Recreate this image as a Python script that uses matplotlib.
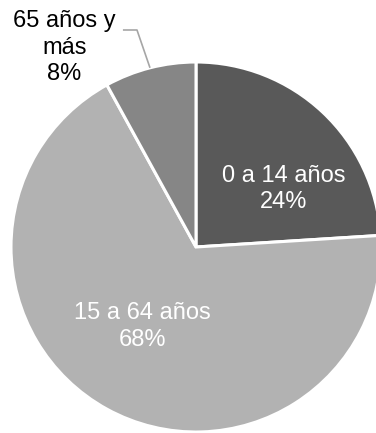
import numpy as np
import matplotlib
matplotlib.use("Agg")
import matplotlib.pyplot as plt

plt.rcParams['font.family'] = ['Liberation Sans', 'DejaVu Sans']

labels = ['0 a 14 años', '15 a 64 años', '65 años y\nmás']
shares = [24, 68, 8]
colors = ['#595959', '#b2b2b2', '#868686']

fig = plt.figure(figsize=(3.76, 4.33), dpi=100)
ax = fig.add_axes([0, 0, 1, 1])
r_px = 185.
cx, cy = 196., 247.

wedges, _ = ax.pie(shares, colors=colors, startangle=90, counterclock=False,
                   radius=1, wedgeprops=dict(edgecolor='white', linewidth=2.2))
ax.set_xlim(-cx / r_px, (376 - cx) / r_px)
ax.set_ylim(-(433 - cy) / r_px, cy / r_px)
ax.axis('off')

fs = 17
ls = 1.27
# inside labels
ax.text(0.473, 0.313, '%s\n%d%%' % (labels[0], shares[0]), color='white',
        ha='center', va='center', size=fs, linespacing=ls)
ax.text(-0.29, -0.43, '%s\n%d%%' % (labels[1], shares[1]), color='white',
        ha='center', va='center', size=fs, linespacing=ls)

# outside label with leader line
w = wedges[2]
ang = np.deg2rad((w.theta1 + w.theta2) / 2)
x0, y0 = np.cos(ang), np.sin(ang)
ax.plot([x0, -0.319, -0.395], [y0, 1.173, 1.173], color='#a6a6a6', lw=1.2,
        solid_capstyle='butt')
ax.text(-0.711, 1.078, '%s\n%d%%' % (labels[2], shares[2]), color='black',
        ha='center', va='center', size=fs, linespacing=ls)

fig.savefig('out.png', dpi=100)
